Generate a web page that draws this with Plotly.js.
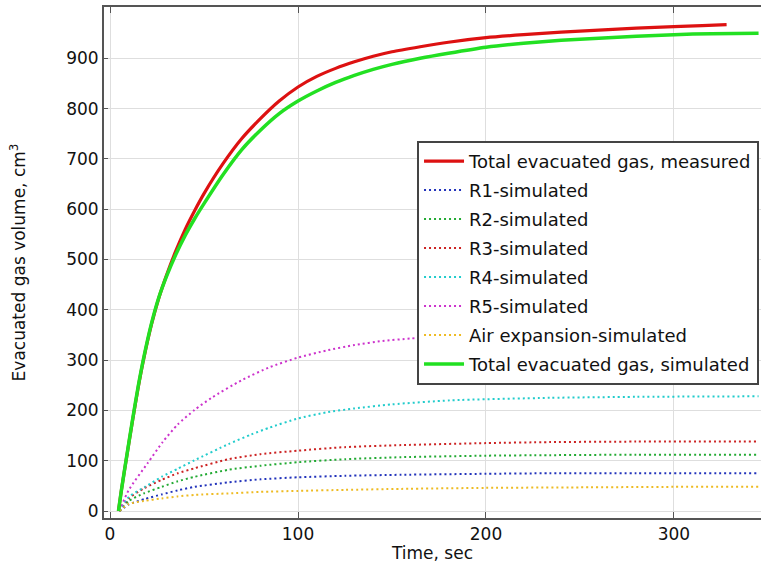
<!DOCTYPE html>
<html>
<head>
<meta charset="utf-8">
<script src="https://cdn.plot.ly/plotly-3.0.1.min.js"></script>
<style>html,body{margin:0;padding:0;background:#fff;}#chart{width:761px;height:563px;}</style>
</head>
<body>
<div id="chart"></div>
<script>
// Measured total evacuated gas
const tMeasured = [4.5, 6, 9, 12, 15, 18, 22, 26, 30, 35, 40, 45, 50, 60, 70, 80, 90, 100, 110, 120, 130, 140, 150, 165, 180, 200, 220, 240, 260, 280, 300, 315, 328];
const vMeasured = [0, 40, 111, 180, 246, 304, 370, 424, 468, 517, 560, 597, 631, 690, 740, 780, 815, 843, 864, 880, 893, 904, 913, 923, 932, 941, 947, 952, 956, 960, 963, 965, 967];

// Simulated total
const tSimTotal = [4.5, 6, 9, 12, 15, 18, 22, 26, 30, 35, 40, 45, 50, 60, 70, 80, 90, 100, 110, 120, 130, 140, 150, 165, 180, 200, 220, 240, 260, 280, 300, 320, 345];
const vSimTotal = [0, 40, 112, 182, 248, 306, 372, 425, 466, 510, 548, 581, 611, 668, 718, 757, 790, 815, 835, 852, 866, 878, 888, 900, 910, 922, 930, 936, 940, 944, 947, 949, 950];

// Simulated components
const tR1 = [5, 10, 18.6, 27.5, 36, 45, 63, 80, 100, 125, 155, 200, 234, 280, 345];
const vR1 = [0, 13, 24, 33, 41, 48, 57, 63, 67, 70, 72, 74, 75, 75, 75];
const tR2 = [5, 10, 18, 27.5, 36, 45, 63, 80, 100, 125, 155, 200, 234, 280, 345];
const vR2 = [0, 20, 35, 48, 59, 68, 82, 90, 97, 103, 107, 110, 111, 112, 112];
const tR3 = [5, 10, 18, 27.5, 36, 45, 63, 80, 100, 125, 155, 200, 234, 280, 345];
const vR3 = [0, 25, 45, 62, 75, 85, 103, 113, 120, 127, 131, 135, 137, 138, 138];
const tR4 = [5, 10, 18.6, 27.5, 36, 45, 63, 75, 85, 100, 115, 130, 150, 181, 234, 280, 345];
const vR4 = [0, 28, 48, 68, 84, 101, 133, 152, 166, 184, 196, 204, 212, 220, 225, 227, 228];
const tR5 = [5, 10, 20, 28, 36, 45, 54, 70, 85, 100, 115, 130, 145, 160, 180, 220, 260, 300, 345];
const vR5 = [0, 42, 95, 137, 172, 201, 225, 260, 286, 305, 319, 330, 338, 343, 347, 349, 350, 350, 350];
const tAir = [5, 10, 18, 27.5, 36, 45, 63, 80, 100, 125, 155, 200, 250, 300, 345];
const vAir = [0, 14, 20, 25, 29, 32, 35, 38, 40, 42, 44, 46, 47, 48, 48];

const seriesNames = ["Total evacuated gas, measured", "R1-simulated", "R2-simulated", "R3-simulated", "R4-simulated", "R5-simulated", "Air expansion-simulated", "Total evacuated gas, simulated"];
const xTicks = [0, 100, 200, 300];
const yTicks = [0, 100, 200, 300, 400, 500, 600, 700, 800, 900];

const FONT = "DejaVu Sans, Verdana, sans-serif";
const dotDash = "2px,3px";

function dotted(x, y, name, color, grp) {
  return {x: x, y: y, name: name, type: "scatter", mode: "lines", legendgroup: grp,
    line: {color: color, width: 2, dash: dotDash, shape: "spline", smoothing: 0.6}};
}

const traces = [
  {x: tMeasured, y: vMeasured, name: seriesNames[0], type: "scatter", mode: "lines", legendgroup: "g0",
    line: {color: "#dd1111", width: 3.2, shape: "spline", smoothing: 0.6}},
  dotted(tR1, vR1, seriesNames[1], "#2233bb", "g1"),
  dotted(tR2, vR2, seriesNames[2], "#22aa33", "g2"),
  dotted(tR3, vR3, seriesNames[3], "#cc2222", "g3"),
  dotted(tR4, vR4, seriesNames[4], "#22cccc", "g4"),
  dotted(tR5, vR5, seriesNames[5], "#cc33cc", "g5"),
  dotted(tAir, vAir, seriesNames[6], "#eebb22", "g6"),
  {x: tSimTotal, y: vSimTotal, name: seriesNames[7], type: "scatter", mode: "lines", legendgroup: "g7",
    line: {color: "#22e022", width: 3.5, shape: "spline", smoothing: 0.6}}
];

const layout = {
  width: 761, height: 563,
  margin: {l: 104, r: 0, t: 7, b: 45, pad: 0},
  paper_bgcolor: "#ffffff", plot_bgcolor: "#ffffff",
  font: {family: FONT, size: 17, color: "#111111"},
  showlegend: true,
  legend: {
    x: 0.997, xanchor: "right", y: 0.738, yanchor: "top",
    bgcolor: "#ffffff", bordercolor: "#444444", borderwidth: 2,
    font: {family: FONT, size: 18, color: "#111111"},
    traceorder: "grouped", tracegroupgap: 2.6, itemwidth: 40
  },
  xaxis: {
    range: [-3.2, 346.3], tickvals: xTicks, ticktext: xTicks.map(String),
    showgrid: true, gridcolor: "#dedede", gridwidth: 1, zeroline: false,
    showline: true, linecolor: "#555555", linewidth: 2, mirror: "ticks",
    ticks: "inside", ticklen: 6, tickcolor: "#555555", tickwidth: 1,
    tickfont: {family: FONT, size: 17, color: "#111111"},
    title: {text: "Time, sec", font: {family: FONT, size: 17, color: "#111111"}, standoff: 2}
  },
  yaxis: {
    range: [-13.9, 1002], tickvals: yTicks, ticktext: yTicks.map(String),
    showgrid: true, gridcolor: "#dedede", gridwidth: 1, zeroline: false,
    showline: true, linecolor: "#555555", linewidth: 2, mirror: false,
    ticks: "inside", ticklen: 4, tickcolor: "#555555", tickwidth: 1,
    tickfont: {family: FONT, size: 17, color: "#111111"},
    title: {text: "Evacuated gas volume, cm<sup>3</sup>", font: {family: FONT, size: 17, color: "#111111"}, standoff: 36}
  }
};

Plotly.newPlot("chart", traces, layout, {displayModeBar: false, staticPlot: true});
</script>
</body>
</html>
